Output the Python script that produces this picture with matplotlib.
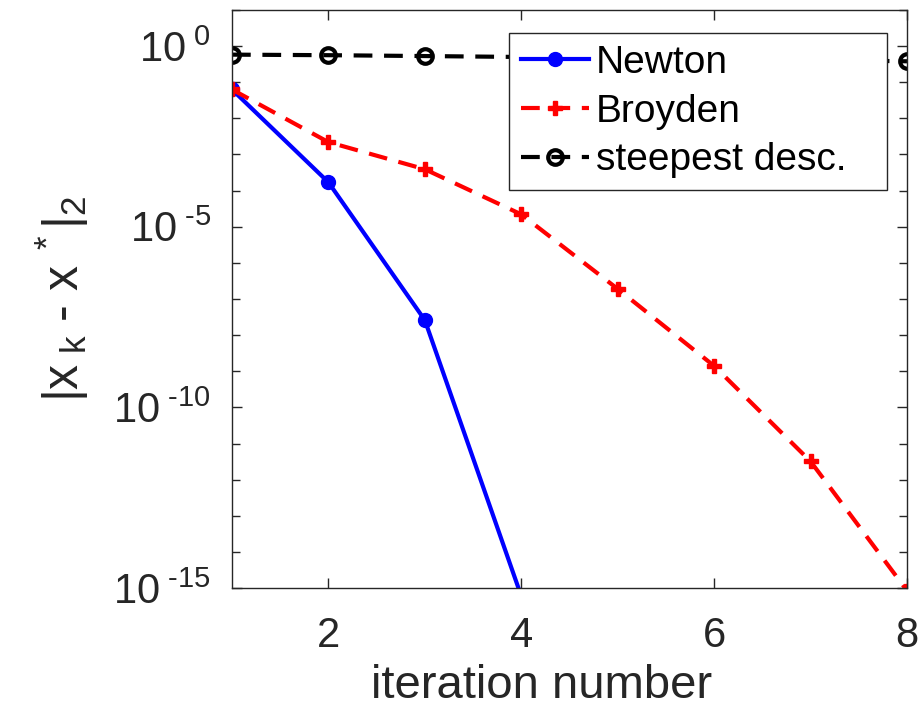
import numpy as np
import matplotlib.pyplot as plt
from matplotlib.ticker import LogLocator, FixedLocator, NullFormatter, FuncFormatter

plt.rcParams['font.family'] = ['Liberation Sans', 'DejaVu Sans']
plt.rcParams['mathtext.fontset'] = 'custom'
plt.rcParams['mathtext.rm'] = 'Liberation Sans'
plt.rcParams['mathtext.it'] = 'Liberation Sans'

# error per iteration
iters = [1, 2, 3, 4, 5, 6, 7, 8]
newton_it = [1, 2, 3, 4]
newton_err = [6.3e-2, 1.7e-4, 2.6e-8, 6e-16]
broyden_err = [6.3e-2, 2.2e-3, 3.9e-4, 2.2e-5, 1.9e-7, 1.4e-9, 3.2e-12, 8.5e-16]
steepest_err = [0.58, 0.56, 0.53, 0.50, 0.47, 0.44, 0.41, 0.38]

axcol = '#262626'
HYPH = '\u2010'


def exp_label(v, pos):
    e = int(round(np.log10(v)))
    s = str(e).replace('-', HYPH)
    return r'$\mathregular{10^{\ %s}}$' % s


fig = plt.figure(figsize=(9.22, 7.07), dpi=100)
ax = fig.add_axes([0.2516, 0.1683, 0.7321, 0.8176])

ax.plot(newton_it, newton_err, '-', color='#0000ff', lw=3, marker='o',
        markersize=10, label='Newton')
ax.plot(iters, broyden_err, color='#ff0000', lw=3, dashes=(4.5, 2.8),
        marker='P', markersize=10, label='Broyden')
ax.plot(iters, steepest_err, color='black', lw=3, dashes=(4.5, 2.8),
        marker='o', markersize=10.5, markerfacecolor='none', markeredgewidth=3,
        label='steepest desc.')

ax.set_yscale('log')
ax.set_xlim(1, 8)
ax.set_ylim(1e-15, 1e1)
ax.set_xticks([2, 4, 6, 8])
ax.yaxis.set_major_locator(FixedLocator([1e-15, 1e-10, 1e-5, 1e0]))
ax.yaxis.set_minor_locator(LogLocator(base=10, subs=(1.0,), numticks=40))
ax.yaxis.set_minor_formatter(NullFormatter())
ax.yaxis.set_major_formatter(FuncFormatter(exp_label))

for s in ax.spines.values():
    s.set_color(axcol)
    s.set_linewidth(1.0)
ax.tick_params(which='both', direction='in', top=True, right=True,
               colors=axcol, labelsize=30, width=1.0)
ax.tick_params(which='major', length=7)
ax.tick_params(which='minor', length=6)
ax.tick_params(axis='x', which='major', pad=20)
ax.tick_params(axis='y', which='major', pad=15)

ax.set_xlabel('iteration number', fontsize=34, color=axcol, labelpad=6,
              x=0.459)
ax.set_ylabel(r'$\mathregular{|x_{\ k}\ ' + HYPH + r'\ x^{\ *}|_{2}}$',
              fontsize=36, color=axcol, labelpad=16)

leg = ax.legend(loc='upper left', bbox_to_anchor=(0.4104, 0.0, 0.56, 0.96),
                mode='expand', fontsize=28,
                handlelength=1.75, handletextpad=0.18, borderpad=0.3,
                labelspacing=0.33, borderaxespad=0, fancybox=False,
                framealpha=1)
leg.get_frame().set_edgecolor(axcol)
leg.get_frame().set_linewidth(1.0)

plt.savefig('out.png')
